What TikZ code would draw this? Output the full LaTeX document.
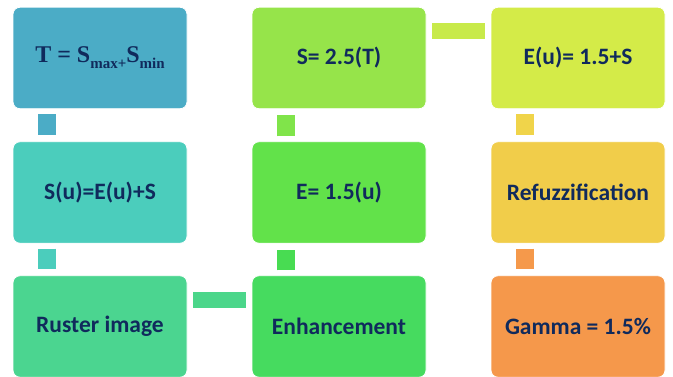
\documentclass[tikz,border=0pt]{standalone}
\usepackage{fontspec}
\setmainfont{Carlito}
\newfontfamily\formulafont{Liberation Serif}
\definecolor{navy}{HTML}{102A5C}
\definecolor{cA}{HTML}{4BACC6}
\definecolor{cB}{HTML}{96E44A}
\definecolor{cC}{HTML}{D4EB48}
\definecolor{cBC}{HTML}{C8EA4A}
\definecolor{cBd}{HTML}{80E44A}
\definecolor{cCd}{HTML}{F0D44A}
\definecolor{cD}{HTML}{4BCDBC}
\definecolor{cE}{HTML}{62E24A}
\definecolor{cEd}{HTML}{48DC52}
\definecolor{cF}{HTML}{F1CD4A}
\definecolor{cFd}{HTML}{F5994B}
\definecolor{cG}{HTML}{4BD590}
\definecolor{cGH}{HTML}{4BD68A}
\definecolor{cH}{HTML}{46DB5F}
\definecolor{cI}{HTML}{F5984B}
\begin{document}
\begin{tikzpicture}[x=1pt,y=-1pt,
  box/.style={draw=white, line width=0.8pt, rounded corners=7pt,
    minimum width=174pt, minimum height=101.5pt, inner sep=0pt,
    text=navy, font=\fontsize{23.5}{27}\selectfont\bfseries},
  vlink/.style={line width=17.5pt, shorten <=5pt, shorten >=6pt},
  hlink/.style={line width=16.5pt, shorten <=6pt, shorten >=6pt}
]
\useasboundingbox (0,0) rectangle (673,377);

% top row
\node[box, fill=cA] (T) at (100,58)
  {\formulafont\fontsize{24}{28}\selectfont T = S\raisebox{-6pt}{\fontsize{15}{17}\selectfont max+}S\raisebox{-6pt}{\fontsize{15}{17}\selectfont min}};
\node[box, fill=cB] (S) at (339,58) {S= 2.5(T)};
\node[box, fill=cC] (Eu) at (578,58) {E(u)= 1.5+S};

% middle row
\node[box, fill=cD] (Su) at (100,192.5) {S(u)=E(u)+S};
\node[box, fill=cE] (E) at (339,192.5) {E= 1.5(u)};
\node[box, fill=cF] (R) at (578,192.5) {Refuzzification};

% bottom row
\node[box, fill=cG] (Ru) at (100,326.5) {Ruster image};
\node[box, fill=cH] (En) at (339,326.5) {Enhancement};
\node[box, fill=cI] (G) at (578,326.5) {Gamma = 1.5\%};

% connectors
\draw[vlink, cA] ([xshift=34.5pt]T.south west) -- ([xshift=34.5pt]Su.north west);
\draw[vlink, cD] ([xshift=34.5pt]Su.south west) -- ([xshift=34.5pt]Ru.north west);
\draw[hlink, cGH] ([yshift=-24.5pt]Ru.north east) -- ([yshift=-24.5pt]En.north west);
\draw[vlink, cEd] ([xshift=34.5pt]En.north west) -- ([xshift=34.5pt]E.south west);
\draw[vlink, cBd] ([xshift=34.5pt]E.north west) -- ([xshift=34.5pt]S.south west);
\draw[hlink, cBC] ([yshift=-24pt]S.north east) -- ([yshift=-24pt]Eu.north west);
\draw[vlink, cCd] ([xshift=34.5pt]Eu.south west) -- ([xshift=34.5pt]R.north west);
\draw[vlink, cFd] ([xshift=34.5pt]R.south west) -- ([xshift=34.5pt]G.north west);
\end{tikzpicture}
\end{document}
